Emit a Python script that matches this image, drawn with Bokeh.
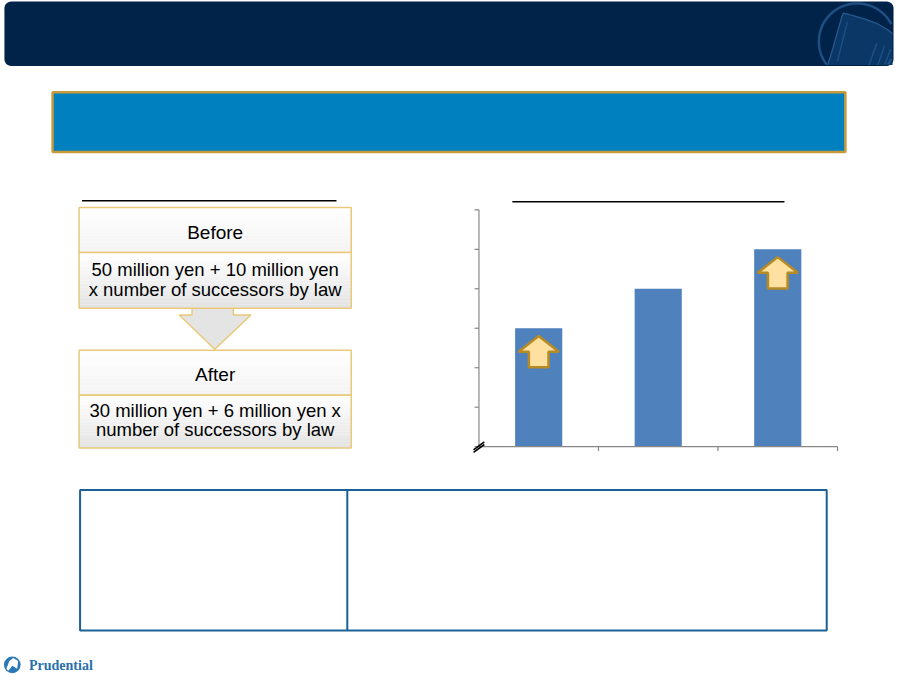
import numpy as np
from bokeh.plotting import figure
from bokeh.models import Range1d
from bokeh.core.properties import value
from bokeh.embed import file_html
from bokeh.resources import INLINE

# ---------------- data ----------------
bar_categories = ["", "", ""]          # category labels (blank in the original)
bar_values = [3, 4, 5]                 # bar heights
y_ticks = [0, 1, 2, 3, 4, 5, 6]        # value-axis tick positions (no labels shown)
arrow_bars = [0, 2]                    # bars carrying an "increase" arrow

before_title = "Before"
before_text = ["50 million yen + 10 million yen", "x number of successors by law"]
after_title = "After"
after_text = ["30 million yen + 6 million yen x", "number of successors by law"]
brand = "Prudential"

# ---------------- page ----------------
W, H = 910, 693
p = figure(width=894, height=677, x_range=Range1d(0, W), y_range=Range1d(H, 0),
           output_backend="svg", toolbar_location=None, x_axis_type=None,
           y_axis_type=None, min_border=0, outline_line_color=None,
           background_fill_color="white", border_fill_color="white")
p.grid.visible = False

FONT = value("Liberation Sans")

def rounded_rect(x0, y0, x1, y1, r, n=8):
    xs, ys = [], []
    corners = [(x1 - r, y0 + r, -90, 0), (x1 - r, y1 - r, 0, 90),
               (x0 + r, y1 - r, 90, 180), (x0 + r, y0 + r, 180, 270)]
    for cx, cy, a0, a1 in corners:
        t = np.radians(np.linspace(a0, a1, n))
        xs += list(cx + r * np.cos(t)); ys += list(cy + r * np.sin(t))
    return xs, ys

# header
hx, hy = rounded_rect(4, 1, 909, 67, 7)
p.patch(hx, hy, fill_color="#012249", line_color=None)
# rock emblem (decorative)
p.patch([842, 847, 852, 856, 858, 866, 880, 893, 903, 908, 908, 842],
        [66, 50, 32, 18, 13, 15, 19, 24, 30, 34, 66, 66],
        fill_color="#0a3766", line_color=None)
p.line([842, 847, 852, 856, 858, 866, 880, 893, 903, 908],
       [66, 50, 32, 18, 13, 15, 19, 24, 30, 34], line_color="#245a8f", line_width=1.3)
p.multi_line([[862, 852], [892, 884], [900, 893], [906, 900]],
             [[22, 62], [44, 66], [46, 66], [50, 66]],
             line_color="#1c4f82", line_width=1.5)
t = np.radians(np.linspace(0, 360, 240))
cxr, cyr, rr = 872, 42, 39
ex = cxr + rr * np.cos(t); ey = cyr + rr * np.sin(t)
mask = (ey > 65.5) | (ex > 907) | (ey < 2)
ex = np.where(mask, np.nan, ex); ey = np.where(mask, np.nan, ey)
p.line(ex, ey, line_color="#1f5083", line_width=2.5)

# banner
p.quad(left=53, right=860, top=94, bottom=155, fill_color="#0080bf",
       line_color="#c99a3a", line_width=2.5)

# title rules
p.segment(x0=[83, 521], x1=[342, 798], y0=[205, 206], y1=[205, 206],
          line_color="black", line_width=1.5)

# gradient boxes
def grad_box(x0, x1, y0, y1, c0, c1, steps=16):
    edges = np.linspace(y0, y1, steps + 1)
    cols = []
    for i in range(steps):
        f = i / (steps - 1)
        rgb = [int(a + (b - a) * f) for a, b in zip(c0, c1)]
        cols.append("#%02x%02x%02x" % tuple(rgb))
    p.quad(left=x0, right=x1, top=edges[:-1], bottom=edges[1:],
           fill_color=cols, line_color=None)
    p.quad(left=x0, right=x1, top=y0, bottom=y1, fill_color=None,
           line_color="#e9c979", line_width=1.5)

WHITE = (255, 255, 255)
# down arrow (behind boxes)
ax_ = [195, 237, 237, 255, 218, 182, 195]
ay_ = [310, 310, 322, 322, 357, 322, 322]
p.patch(ax_, ay_, fill_color="#e4e4e4", line_color="#e9c979", line_width=1.5)

grad_box(80, 357, 212, 258, WHITE, (244, 244, 244))
grad_box(80, 357, 258, 315, WHITE, (228, 228, 228))
grad_box(80, 357, 358, 404, WHITE, (244, 244, 244))
grad_box(80, 357, 404, 458, WHITE, (228, 228, 228))

cx_box = 218.5
p.text(x=[cx_box, cx_box], y=[237, 383], text=[before_title, after_title],
       text_font=FONT, text_font_size="19px", text_align="center",
       text_baseline="middle", text_color="black")
p.text(x=[cx_box] * 4, y=[275, 296, 420, 439],
       text=before_text + after_text, text_font=FONT, text_font_size="18.5px",
       text_align="center", text_baseline="middle", text_color="black")

# ---------------- bar chart (own scales) ----------------
px_x0, px_x1 = 487.0, 852.0      # category axis extent on page
px_y0, px_y1 = 456.7, 214.3      # value axis extent on page
n = len(bar_values)
ux = (px_x1 - px_x0) / n
uy = (px_y0 - px_y1) / (y_ticks[-1] - y_ticks[0])
p.extra_x_ranges = {"cx": Range1d(-px_x0 / ux, (W - px_x0) / ux)}
p.extra_y_ranges = {"cy": Range1d(-(H - px_y0) / uy, px_y0 / uy)}
kw = dict(x_range_name="cx", y_range_name="cy")

xs = [i + 0.5 for i in range(n)]
p.vbar(x=xs, top=bar_values, bottom=0, width=48 / ux, fill_color="#4f81bd",
       line_color=None, **kw)

axis_col = "#878787"
p.segment(x0=[0, 0], y0=[y_ticks[0], 0], x1=[0, n], y1=[y_ticks[-1], 0],
          line_color=axis_col, line_width=1.2, **kw)
tl_x = 4.5 / ux; tl_y = 4.5 / uy
p.segment(x0=[-tl_x] * len(y_ticks), x1=[0] * len(y_ticks), y0=y_ticks, y1=y_ticks,
          line_color=axis_col, line_width=1.2, **kw)
xt = list(range(1, n + 1))
p.segment(x0=xt, x1=xt, y0=[0] * len(xt), y1=[-tl_y] * len(xt),
          line_color=axis_col, line_width=1.2, **kw)
# axis break mark
for off in (-1.3, 1.3):
    p.segment(x0=[(-5.5) / ux], y0=[(-4.5 + off) / uy], x1=[5.5 / ux],
              y1=[(3.5 + off) / uy], line_color="black", line_width=1.6, **kw)

# increase arrows inside bars
for b in arrow_bars:
    cxa = xs[b]; top = bar_values[b]
    dx = [0, 20.5, 10, 10, -10, -10, -20.5]
    dy = [8, 24, 24, 40, 40, 24, 24]
    p.patch([cxa + d / ux for d in dx], [top - d / uy for d in dy],
            fill_color="#fee0a0", line_color="#b78b24", line_width=2.5, **kw)

# ---------------- bottom table ----------------
p.quad(left=81, right=841, top=501, bottom=645, fill_color=None,
       line_color="#1b6096", line_width=2)
p.segment(x0=[353], x1=[353], y0=[501], y1=[645], line_color="#1b6096", line_width=2)

# ---------------- brand ----------------
p.circle(x=[12], y=[680], radius=8.5, fill_color="#2b78b8", line_color=None)
p.patch([6, 9, 13, 18, 17, 12, 8], [684, 676, 673, 676, 684, 681, 686],
        fill_color="white", line_color=None)
p.text(x=[29], y=[681], text=[brand], text_font=value("Liberation Serif"),
       text_font_style="bold", text_font_size="14px", text_align="left",
       text_baseline="middle", text_color="#2770b0")

open("out.html", "w").write(file_html(p, INLINE))
